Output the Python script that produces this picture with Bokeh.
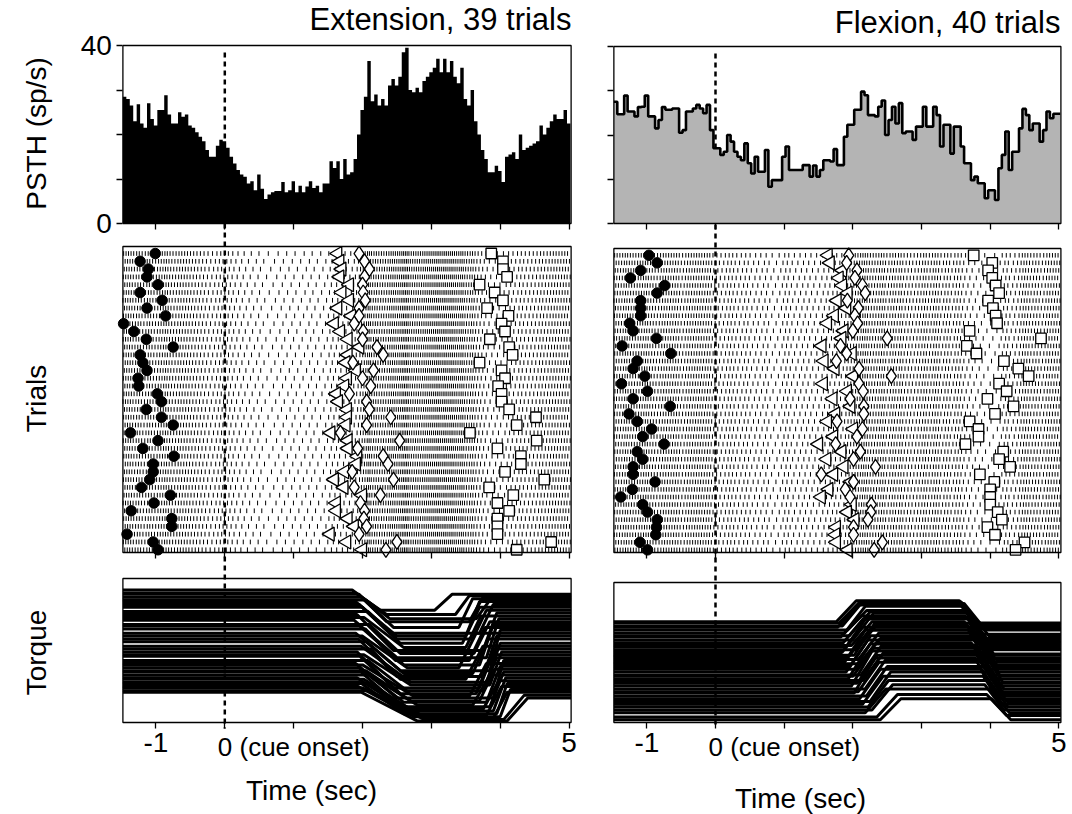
import numpy as np
from bokeh.plotting import figure
from bokeh.models import Range1d, LinearAxis, FixedTicker, Label
from bokeh.layouts import row
from bokeh.embed import file_html
from bokeh.resources import INLINE

# ---------------------------------------------------------------- data
BIN_START = -1.48          # s, left edge of first PSTH bin / panels
BIN_WIDTH = 0.05           # s
T_END = 5.03               # s, right edge of panels
TIME_TICKS = [-1, 0, 1, 2, 3, 4, 5]
TIME_TICK_LABELS = {-1: "-1", 5: "5"}
PSTH_TICKS = [0, 10, 20, 30, 40]
PSTH_TICK_LABELS = {0: "0", 40: "40"}
TITLES = ["Extension, 39 trials", "Flexion, 40 trials"]
ROW_LABELS = ["PSTH (sp/s)", "Trials", "Torque"]
CUE_LABEL = "0 (cue onset)"
X_LABEL = "Time (sec)"

ext_psth = [28.5, 28, 26.5, 23, 26.8, 22.5, 21.5, 27, 23.5, 22,
            25.5, 25.5, 28.8, 24.5, 22.5, 22.5, 25, 24, 24.5, 22,
            21.5, 20.5, 19.5, 18.5, 16.5, 15, 15, 17.5, 18.8, 18.5,
            17, 15, 13.5, 12, 11, 10.5, 9, 9.5, 7.5, 11,
            7.8, 5.5, 6.5, 7, 7.3, 7.3, 9.3, 7, 7.5, 9.5,
            7, 8.5, 7, 8.3, 9.5, 8, 8.5, 7, 9, 9,
            14, 12.5, 14, 10, 14.5, 11, 11.5, 14.5, 20, 25.5,
            28.5, 36.5, 27.5, 29, 26.5, 28, 26.5, 31, 32.5, 31,
            33, 38.5, 39.5, 30, 29.5, 30.5, 29.5, 32, 33, 34,
            35, 37, 34, 37, 34, 36.5, 33, 31.5, 35, 28,
            26.5, 30, 23, 20, 16.5, 14.5, 11.5, 11.5, 13, 11.8,
            9.3, 15, 15.5, 16, 14.5, 20, 16.5, 17, 17.5, 18,
            18.5, 22, 20, 21.5, 23, 24.5, 23.5, 23.5, 25.5, 22.5]

flex_psth = [27.5, 24.7, 24.7, 28.9, 25.3, 25.3, 24.2, 26.3, 26.4, 28.9,
             24.2, 24.2, 21.5, 23.4, 26.3, 25.7, 25.7, 26, 26, 20.5,
             21.1, 25.3, 25.3, 26, 26.8, 26, 24.9, 26.8, 21.1, 17,
             17, 15.5, 16.2, 20, 18.5, 16.2, 15.1, 14.3, 18.1, 13.6,
             11.3, 15.1, 11.7, 11.7, 16.6, 8.3, 9.8, 9.8, 9.8, 15.1,
             17.4, 12.1, 12.1, 12.1, 12.1, 13.2, 13.2, 10.6, 13.1, 10.6,
             12.1, 14.3, 14.3, 14, 16.8, 13.2, 13.2, 19.6, 22.3, 22.3,
             25.7, 25.7, 29.8, 29, 24.5, 24.5, 24.2, 26.4, 27.8, 20,
             23.4, 26.4, 22.6, 27.2, 20.4, 20.8, 20.8, 18.9, 21.9, 21.9,
             26.4, 21.9, 21.9, 26.4, 24.5, 17.4, 22.3, 22.3, 15.8, 21.9,
             21.9, 17.4, 13.6, 13.6, 9.8, 10.6, 9.1, 9.1, 5.7, 7.5,
             7.5, 5.3, 12.5, 15.5, 20.8, 12.1, 16.2, 16.2, 21.5, 25.9,
             24.5, 21.1, 22.6, 22.6, 18.5, 21.1, 25.3, 23.8, 24.8, 24.8]

# per-trial behavioural event times (s), trial 1 at top
ext_hold = [-1.01, -1.23, -1.11, -1.13, -0.97, -1.23, -0.91, -1.13, -0.86, -1.47,
            -1.32, -1.14, -0.75, -1.23, -1.19, -1.13, -1.26, -1.25, -0.98, -0.92,
            -1.14, -0.92, -0.75, -1.37, -0.97, -1.19, -0.74, -1.04, -1.04, -1.09,
            -1.21, -0.79, -1.03, -1.36, -0.77, -0.77, -1.42, -1.04, -0.97]
ext_move = [1.64, 1.67, 1.70, 1.67, 1.81, 1.70, 1.81, 1.64, 1.84, 1.59,
            1.68, 1.79, 1.96, 1.79, 1.76, 1.91, 1.78, 1.74, 1.62, 1.65,
            1.78, 1.78, 1.76, 1.54, 1.79, 1.79, 1.93, 1.91, 1.74, 1.59,
            1.73, 2.00, 1.62, 1.62, 1.79, 1.88, 1.53, 1.77, 2.00]
ext_stop = [1.95, 2.03, 2.10, 2.03, 2.00, 2.01, 2.04, 1.95, 1.95, 1.88,
            2.01, 2.00, 2.21, 2.30, 1.86, 2.16, 2.00, 2.12, 1.81, 2.06,
            2.10, 2.41, 2.06, 1.68, 2.54, 1.93, 2.30, 2.37, 1.85, 2.45,
            1.88, 2.26, 1.97, 2.03, 2.02, 2.06, 1.95, 2.50, 2.34]
ext_reward = [3.87, 4.04, 4.04, 4.10, 3.70, 3.92, 4.04, 3.81, 4.12, 4.02,
              4.07, 3.85, 4.13, 4.18, 3.70, 4.02, 4.07, 3.97, 4.02, 4.02,
              4.13, 4.52, 4.24, 3.56, 4.53, 3.96, 4.30, 4.30, 4.07, 4.64,
              3.84, 4.19, 3.96, 4.13, 3.96, 3.96, 3.96, 4.74, 4.24]

flex_hold = [-0.97, -0.85, -1.09, -1.24, -0.74, -0.85, -1.09, -1.09, -1.09, -1.25,
             -1.20, -0.86, -1.36, -0.65, -1.14, -1.20, -1.03, -1.37, -0.99, -1.20,
             -0.66, -1.26, -1.14, -0.93, -1.06, -0.75, -1.14, -1.06, -1.20, -1.20,
             -0.88, -1.21, -1.38, -1.06, -0.99, -0.85, -0.86, -0.87, -1.10, -0.99]
flex_move = [1.64, 1.67, 1.85, 1.80, 1.85, 1.93, 1.77, 1.91, 1.73, 1.63,
             1.87, 1.84, 1.55, 1.99, 1.58, 1.74, 2.01, 1.57, 1.92, 1.71,
             1.97, 1.75, 1.63, 2.01, 1.72, 1.50, 1.84, 1.62, 1.87, 1.72,
             1.97, 1.65, 1.54, 1.99, 1.92, 2.03, 1.76, 1.75, 1.76, 1.93]
flex_stop = [1.94, 1.91, 2.06, 2.03, 2.14, 2.18, 1.92, 2.08, 2.03, 2.07,
             2.00, 2.50, 1.82, 1.91, 1.76, 2.09, 2.56, 2.09, 2.15, 1.96,
             2.16, 2.16, 1.77, 2.14, 2.06, 1.75, 2.11, 2.01, 2.33, 1.54,
             2.01, 1.89, 1.96, 2.27, 2.26, 2.22, 2.01, 2.01, 2.43, 2.31]
flex_reward = [3.76, 4.03, 3.97, 4.03, 4.08, 4.13, 3.97, 4.04, 4.08, 4.10,
               3.70, 4.74, 3.66, 3.80, 4.20, 4.41, 4.56, 4.13, 4.24, 3.96,
               4.34, 4.07, 3.70, 3.83, 3.83, 3.64, 4.19, 4.13, 4.29, 3.85,
               4.06, 4.00, 4.00, 4.00, 4.11, 4.17, 3.96, 4.07, 4.50, 4.37]

# torque traces (fraction of panel height): start level, hold level, end level,
# and the times at which the two transitions start / finish
ext_tq_base = [0.92, 0.90, 0.89, 0.87, 0.85, 0.84, 0.82, 0.80, 0.77, 0.75,
               0.73, 0.71, 0.68, 0.67, 0.65, 0.62, 0.60, 0.58, 0.56, 0.53,
               0.51, 0.49, 0.47, 0.46, 0.43, 0.41, 0.40, 0.38, 0.36, 0.35,
               0.33, 0.31, 0.30, 0.28, 0.27, 0.25, 0.24, 0.22, 0.21]
ext_tq_hold = [0.78, 0.75, 0.70, 0.66, 0.72, 0.60, 0.62, 0.55, 0.58, 0.50,
               0.52, 0.45, 0.48, 0.40, 0.43, 0.36, 0.38, 0.32, 0.34, 0.28,
               0.30, 0.24, 0.26, 0.20, 0.22, 0.17, 0.18, 0.14, 0.15, 0.11,
               0.12, 0.08, 0.09, 0.06, 0.05, 0.04, 0.03, 0.02, 0.01]
ext_tq_end = [0.89, 0.88, 0.87, 0.86, 0.85, 0.84, 0.82, 0.80, 0.78, 0.76,
              0.74, 0.72, 0.70, 0.68, 0.66, 0.64, 0.62, 0.60, 0.58, 0.55,
              0.53, 0.51, 0.49, 0.47, 0.45, 0.43, 0.41, 0.39, 0.37, 0.35,
              0.33, 0.31, 0.29, 0.27, 0.25, 0.23, 0.21, 0.19, 0.17]
ext_tq_t1 = [1.85, 1.90, 1.95, 1.98, 2.05, 1.90, 1.95, 2.00, 2.08, 1.92,
             2.02, 1.88, 2.10, 1.96, 2.04, 1.90, 2.00, 1.94, 2.06, 1.98,
             2.12, 1.92, 2.02, 1.96, 2.08, 1.90, 2.00, 1.95, 2.05, 1.98,
             2.10, 1.92, 2.02, 1.96, 2.06, 1.94, 2.00, 2.08, 1.98]
ext_tq_t2 = [2.25, 2.35, 2.35, 2.45, 2.40, 2.50, 2.40, 2.55, 2.50, 2.45,
             2.60, 2.50, 2.55, 2.60, 2.48, 2.55, 2.65, 2.50, 2.60, 2.70,
             2.55, 2.45, 2.70, 2.55, 2.65, 2.50, 2.75, 2.60, 2.70, 2.55,
             2.80, 2.65, 2.70, 2.60, 2.85, 2.75, 2.95, 2.90, 2.80]
ext_tq_t3 = [3.05, 3.35, 3.55, 3.40, 3.65, 3.50, 3.70, 3.45, 3.60, 3.75,
             3.50, 3.80, 3.62, 3.70, 3.55, 3.85, 3.40, 3.75, 3.60, 3.80,
             3.50, 3.70, 3.85, 3.65, 3.75, 3.90, 3.55, 3.80, 3.70, 3.85,
             3.60, 3.90, 3.75, 3.95, 3.80, 4.00, 3.90, 4.05, 4.10]
ext_tq_t4 = [3.30, 3.55, 3.75, 3.60, 3.85, 3.70, 3.90, 3.70, 3.80, 3.95,
             3.72, 3.98, 3.85, 3.90, 3.78, 4.00, 3.65, 3.95, 3.82, 4.00,
             3.75, 3.92, 4.02, 3.88, 3.95, 4.05, 3.80, 4.00, 3.92, 4.05,
             3.85, 4.08, 3.98, 4.10, 4.02, 4.15, 4.10, 4.35, 4.40]

flex_tq_base = [0.72, 0.71, 0.69, 0.68, 0.66, 0.64, 0.62, 0.61, 0.59, 0.57,
                0.55, 0.54, 0.52, 0.50, 0.48, 0.47, 0.45, 0.43, 0.42, 0.40,
                0.38, 0.36, 0.34, 0.33, 0.31, 0.30, 0.28, 0.26, 0.24, 0.22,
                0.21, 0.19, 0.17, 0.15, 0.13, 0.11, 0.09, 0.07, 0.04, 0.02]
flex_tq_hold = [0.87, 0.86, 0.85, 0.84, 0.80, 0.83, 0.79, 0.76, 0.78, 0.74,
                0.72, 0.75, 0.70, 0.68, 0.71, 0.66, 0.64, 0.66, 0.60, 0.62,
                0.57, 0.59, 0.55, 0.53, 0.56, 0.50, 0.48, 0.51, 0.45, 0.43,
                0.46, 0.40, 0.38, 0.36, 0.33, 0.30, 0.27, 0.24, 0.20, 0.17]
flex_tq_end = [0.71, 0.70, 0.68, 0.67, 0.66, 0.63, 0.62, 0.60, 0.58, 0.57,
               0.55, 0.53, 0.52, 0.49, 0.48, 0.46, 0.45, 0.43, 0.41, 0.40,
               0.38, 0.36, 0.34, 0.33, 0.31, 0.29, 0.28, 0.26, 0.24, 0.22,
               0.20, 0.19, 0.17, 0.15, 0.13, 0.11, 0.09, 0.07, 0.05, 0.02]
flex_tq_t1 = [1.76, 1.80, 1.85, 1.78, 1.92, 1.88, 1.95, 1.82, 2.00, 1.86,
              1.98, 1.90, 2.05, 1.84, 2.02, 1.94, 2.08, 1.88, 2.10, 1.96,
              2.04, 1.90, 2.12, 2.00, 1.93, 2.15, 2.06, 1.98, 2.18, 2.08,
              2.02, 2.20, 2.10, 2.25, 2.14, 2.22, 2.28, 2.18, 2.35, 2.40]
flex_tq_t2 = [2.05, 2.10, 2.12, 2.08, 2.20, 2.18, 2.25, 2.12, 2.30, 2.15,
              2.28, 2.20, 2.35, 2.14, 2.32, 2.24, 2.38, 2.18, 2.40, 2.26,
              2.34, 2.22, 2.42, 2.30, 2.25, 2.45, 2.36, 2.28, 2.48, 2.38,
              2.32, 2.50, 2.40, 2.55, 2.44, 2.52, 2.58, 2.48, 2.65, 2.70]
flex_tq_t3 = [3.55, 3.58, 3.62, 3.57, 3.66, 3.60, 3.70, 3.64, 3.68, 3.72,
              3.62, 3.75, 3.66, 3.78, 3.70, 3.74, 3.80, 3.68, 3.82, 3.76,
              3.72, 3.85, 3.78, 3.88, 3.74, 3.90, 3.80, 3.84, 3.92, 3.86,
              3.78, 3.95, 3.88, 3.96, 3.90, 3.98, 3.92, 4.00, 3.95, 4.02]
flex_tq_t4 = [3.80, 3.85, 3.90, 3.82, 3.92, 3.86, 3.98, 3.90, 3.95, 4.00,
              3.88, 4.02, 3.94, 4.05, 3.98, 4.02, 4.08, 3.95, 4.10, 4.04,
              4.00, 4.12, 4.06, 4.15, 4.02, 4.18, 4.08, 4.12, 4.20, 4.14,
              4.06, 4.22, 4.16, 4.24, 4.18, 4.26, 4.20, 4.28, 4.24, 4.30]

# ---------------------------------------------------------------- layout
FONT = "Liberation Sans"
FS = "28px"
FS_TITLE = "31px"
FS_CUE = "26px"
H = 814


def band(px_top, px_bot, v_top, v_bot):
    """Range whose v_top/v_bot land on page pixel rows px_top/px_bot."""
    k = (px_bot - px_top) / (v_bot - v_top)
    return Range1d(start=v_bot + (H - px_bot) / k, end=v_top + (0 - px_top) / k)


def spike_times(rates, k):
    r = np.asarray(rates, float)
    edges = BIN_START + BIN_WIDTH * np.arange(len(r) + 1)
    cum = np.concatenate([[0.0], np.cumsum(r * BIN_WIDTH)])
    phase = (k * 0.618034 + 0.31) % 1.0
    targets = np.arange(phase, cum[-1], 1.0)
    return np.interp(targets, cum, edges)


def tick_axis(loc, labels):
    return LinearAxis(ticker=FixedTicker(ticks=TIME_TICKS),
                      major_label_overrides={t: labels.get(t, "") for t in TIME_TICKS},
                      fixed_location=loc, axis_line_color=None,
                      major_tick_in=0, major_tick_out=6, major_tick_line_width=1.3,
                      minor_tick_line_color=None, major_label_text_font=FONT,
                      major_label_text_font_size=FS, major_label_text_color="black",
                      major_label_standoff=4)


def make_column(cfg):
    x0, width = cfg["page_x0"], cfg["width"]
    zero_px, scale = cfg["zero_px"], cfg["px_per_s"]
    p = figure(width=width, height=H,
               x_range=Range1d((x0 - zero_px) / scale, (x0 + width - zero_px) / scale),
               y_range=Range1d(H, 0),
               x_axis_location=None, y_axis_location=None,
               toolbar_location=None, output_backend="svg", min_border=0)
    p.outline_line_color = None
    p.grid.visible = False
    p.background_fill_color = "white"
    p.border_fill_color = "white"
    p.extra_x_ranges = {"px": Range1d(x0, x0 + width)}
    ps_t, ps_b = cfg["psth_px"]
    ra_t, ra_b = cfg["raster_px"]
    tq_t, tq_b = cfg["torque_px"]
    n = cfg["n"]
    p.extra_y_ranges = {
        "psth": band(ps_t, ps_b, 40, 0),
        "raster": band(ra_t, ra_b, 0.1, n + 0.35),
        "torque": band(tq_t, tq_b, 1.0, 0.0),
    }

    # cue-onset dashed line across all three panels
    p.segment(x0=[0], x1=[0], y0=[ps_t + 7], y1=[tq_b + 6], line_color="black",
              line_width=2.5, line_dash="5 4")

    # PSTH
    rates = cfg["psth"]
    edges = BIN_START + BIN_WIDTH * np.arange(len(rates) + 1)
    ytop = list(rates) + [rates[-1]]
    if cfg["filled"]:
        p.varea_step(x=list(edges), y1=[0] * len(edges), y2=ytop, step_mode="after",
                     fill_color="black", y_range_name="psth")
    else:
        p.varea_step(x=list(edges), y1=[0] * len(edges), y2=ytop, step_mode="after",
                     fill_color="#b4b4b4", y_range_name="psth")
        p.step(x=list(edges), y=ytop, mode="after",
               line_color="black", line_width=2.6, y_range_name="psth")
    p.quad(left=BIN_START, right=T_END, bottom=0, top=40, fill_color=None,
           line_color="black", line_width=1.3, y_range_name="psth")

    # raster
    sx, sy0, sy1 = [], [], []
    for k in range(n):
        t = spike_times(rates, k)
        sx.extend(t)
        sy0.extend([k + 1 - 0.3] * len(t))
        sy1.extend([k + 1 + 0.3] * len(t))
    p.segment(x0=sx, x1=sx, y0=sy0, y1=sy1, line_color="black", line_width=1,
              y_range_name="raster")
    rows = list(range(1, n + 1))
    p.scatter(x=cfg["hold"], y=rows, marker="circle", size=10.5, fill_color="black",
              line_color="black", y_range_name="raster")
    p.scatter(x=cfg["move"], y=rows, marker="triangle", angle=np.pi / 2, size=14,
              fill_color="white", line_color="black", line_width=1.3, y_range_name="raster")
    p.scatter(x=cfg["stop"], y=rows, marker="diamond", size=15,
              fill_color="white", line_color="black", line_width=1.3, y_range_name="raster")
    p.scatter(x=cfg["reward"], y=rows, marker="square", size=10.5,
              fill_color="white", line_color="black", line_width=1.3, y_range_name="raster")
    p.quad(left=BIN_START, right=T_END, bottom=0.1, top=n + 0.35, fill_color=None,
           line_color="black", line_width=1.3, y_range_name="raster")

    # torque
    b, h, e, t1, t2, t3, t4 = cfg["torque"]
    xs = [[BIN_START, t1[i], t2[i], t3[i], t4[i], T_END] for i in range(len(b))]
    ys = [[b[i], b[i], h[i], h[i], e[i], e[i]] for i in range(len(b))]
    p.multi_line(xs=xs, ys=ys, line_color="black", line_width=3, y_range_name="torque")
    p.quad(left=BIN_START, right=T_END, bottom=0, top=1, fill_color=None,
           line_color="black", line_width=1.3, y_range_name="torque")

    # time axes: ticks under each panel, labels under the torque panel
    p.add_layout(tick_axis(ps_b, {}), "below")
    p.add_layout(tick_axis(ra_b, {}), "below")
    p.add_layout(tick_axis(tq_b, TIME_TICK_LABELS), "below")

    # PSTH rate axis
    ya = LinearAxis(y_range_name="psth", ticker=FixedTicker(ticks=PSTH_TICKS),
                    fixed_location=BIN_START,
                    major_label_overrides={t: (PSTH_TICK_LABELS.get(t, "") if cfg["ylabels"] else "")
                                           for t in PSTH_TICKS},
                    axis_line_color=None, major_tick_in=0, major_tick_out=6,
                    major_tick_line_width=1.3, minor_tick_line_color=None,
                    major_label_text_font=FONT, major_label_text_font_size=FS,
                    major_label_text_color="black", major_label_standoff=5)
    p.add_layout(ya, "left")

    def lab(text, x, y, xr="px", fs=FS, **kw):
        p.add_layout(Label(x=x, y=y, text=text, x_range_name=xr, text_font=FONT,
                           text_font_size=fs, text_color="black",
                           text_baseline="middle", **kw))

    lab(cfg["title"], cfg["title_x"], cfg["title_y"], fs=FS_TITLE, text_align="right")
    lab(CUE_LABEL, 0, cfg["tick_label_y"], xr="default", fs=FS_CUE, text_align="left", x_offset=-7)
    lab(X_LABEL, cfg["xlab_x"], cfg["xlab_y"], text_align="center")
    if cfg["ylabels"]:
        for txt, yy in zip(ROW_LABELS, (133, 398, 652)):
            lab(txt, 36, yy, text_align="center", angle=np.pi / 2)
    return p


left = make_column(dict(
    page_x0=0, width=590, zero_px=224.3, px_per_s=68.85, n=39,
    psth_px=(45, 223), raster_px=(246, 552), torque_px=(578, 722),
    psth=ext_psth, filled=True,
    hold=ext_hold, move=ext_move, stop=ext_stop, reward=ext_reward,
    torque=(ext_tq_base, ext_tq_hold, ext_tq_end, ext_tq_t1, ext_tq_t2, ext_tq_t3, ext_tq_t4),
    title=TITLES[0], title_x=571, title_y=19, tick_label_y=746,
    xlab_x=311, xlab_y=790, ylabels=True))

right = make_column(dict(
    page_x0=590, width=482, zero_px=715.0, px_per_s=68.67, n=40,
    psth_px=(46, 223), raster_px=(248, 552), torque_px=(582, 722),
    psth=flex_psth, filled=False,
    hold=flex_hold, move=flex_move, stop=flex_stop, reward=flex_reward,
    torque=(flex_tq_base, flex_tq_hold, flex_tq_end, flex_tq_t1, flex_tq_t2, flex_tq_t3, flex_tq_t4),
    title=TITLES[1], title_x=1060, title_y=22, tick_label_y=746,
    xlab_x=800, xlab_y=798, ylabels=False))

layout = row(left, right)
open("out.html", "w").write(file_html(layout, INLINE))
